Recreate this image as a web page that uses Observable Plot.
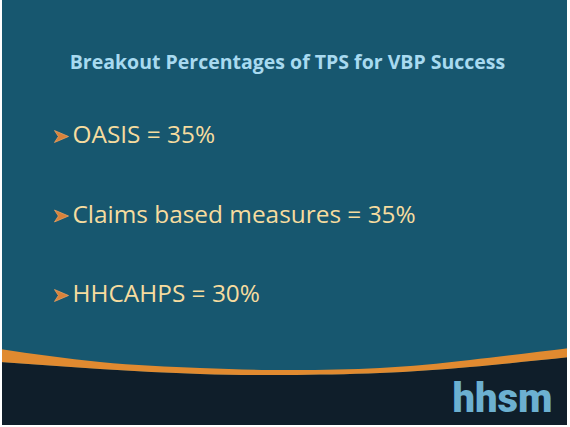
<!DOCTYPE html>
<html>
<head>
<meta charset="utf-8">
<script src="https://cdn.jsdelivr.net/npm/d3@7"></script>
<script src="https://cdn.jsdelivr.net/npm/@observablehq/plot@0.6"></script>
<style>
  html, body { margin: 0; padding: 0; background: #ffffff; }
  #chart svg { display: block; }
</style>
</head>
<body>
<div id="chart"></div>
<script>
// Chart content
const title = "Breakout Percentages of TPS for VBP Success";
const categories = ["OASIS", "Claims based measures", "HHCAHPS"];
const percentages = [35, 35, 30];
const logoText = "hhsm";

// Decorative swoosh outline (slide template)
const swooshX      = [0, 100, 200, 285, 380, 470, 570];
const swooshTop    = [349, 362, 368, 370, 368, 360, 348];
const swooshBottom = [362, 369, 374, 375, 373, 367, 357];

const W = 570, H = 427;
const rows = categories.map((c, i) => ({
  label: `${c} = ${percentages[i]}%`,
  slot: i
}));
const swoosh = swooshX.map((x, i) => ({x, top: swooshTop[i], bottom: swooshBottom[i], floor: H}));

const rowY = d3.scaleLinear().domain([0, 2]).range([135, 294]);

// Arrowhead bullet symbol (like Wingdings ➢)
const arrowHead = {
  draw(ctx, size) {
    const r = Math.sqrt(size / Math.PI);
    ctx.moveTo(r, 0);
    ctx.lineTo(-r, -0.85 * r);
    ctx.lineTo(-0.45 * r, 0);
    ctx.lineTo(-r, 0.85 * r);
    ctx.closePath();
  }
};

const plot = Plot.plot({
  width: W,
  height: H,
  margin: 0,
  x: {domain: [0, W], range: [0, W], axis: null},
  y: {domain: [0, H], range: [0, H], axis: null},
  style: {background: "#ffffff", overflow: "hidden"},
  marks: [
    Plot.rect([{x1: 2, x2: 567, y1: 0, y2: 425}], {x1: "x1", x2: "x2", y1: "y1", y2: "y2", fill: "#17576f"}),
    Plot.area(swoosh, {x1: "x", y1: "bottom", y2: "floor", fill: "#0f1e2a", curve: "natural"}),
    Plot.area(swoosh, {x1: "x", y1: "top", y2: "bottom", fill: "#e08a30", curve: "natural"}),
    Plot.rect([{x1: 0, x2: 2, y1: 0, y2: H}, {x1: 567, x2: W, y1: 0, y2: H}, {x1: 0, x2: W, y1: 425, y2: H}],
      {x1: "x1", x2: "x2", y1: "y1", y2: "y2", fill: "#ffffff"}),
    Plot.text([title], {x: 287, y: 62, text: d => d, fill: "#a8daf0", fontSize: 19.5, fontWeight: "bold",
      fontFamily: "Open Sans", textAnchor: "middle"}),
    Plot.dot(rows, {x: 61, y: d => rowY(d.slot) + 1, symbol: arrowHead, r: 7,
      fill: "#d9823a", stroke: "#e8a060", strokeWidth: 0.8}),
    Plot.text(rows, {x: 72, y: d => rowY(d.slot), text: "label", fill: "#f6dc9f", fontSize: 24.4,
      fontFamily: "Open Sans", textAnchor: "start"}),
    Plot.text([logoText], {x: 502, y: 399, text: d => d, fill: "#6cb0d0", fontSize: 40, fontWeight: 900,
      fontFamily: "Roboto", textAnchor: "middle", style: {letterSpacing: "-1.5px"}})
  ]
});
document.getElementById("chart").append(plot);
</script>
</body>
</html>
